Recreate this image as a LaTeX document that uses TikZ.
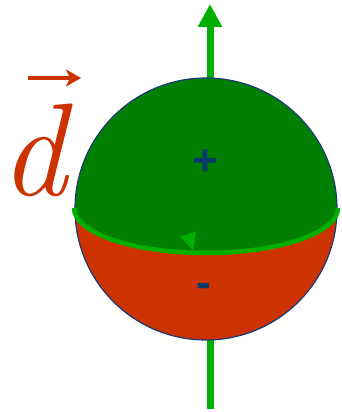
\documentclass[tikz,border=0pt]{standalone}
\usepackage{fontspec}
\newfontfamily\signfont{Liberation Sans}
\usetikzlibrary{arrows.meta}
\definecolor{hotred}{HTML}{CC3300}
\definecolor{darkgrn}{HTML}{007F00}
\definecolor{litegrn}{HTML}{00B000}
\definecolor{signblue}{HTML}{0A3A6A}
\definecolor{rimblue}{HTML}{1A3A7A}
\tikzset{
  axisline/.style={litegrn, line width=7pt, -{Triangle[width=23pt,length=23pt]}},
  signtext/.style={signblue, font=\signfont\bfseries\fontsize{44}{44}\selectfont, inner sep=0pt},
}
\begin{document}
\begin{tikzpicture}[x=1pt,y=1pt]
\useasboundingbox (0,0) rectangle (341,412);
% axis
\coordinate (axbot) at (210,3);
\coordinate (axtop) at (210,408);
\draw[axisline] (axbot) -- (axtop);
% sphere
\node[circle, minimum size=262pt, inner sep=0pt] (sphere) at (206,203) {};
\fill[hotred] (sphere.center) circle[radius=131];
\fill[darkgrn] (337,203) arc[start angle=0, end angle=180, radius=131]
  arc[start angle=180, end angle=360, x radius=131, y radius=45];
\draw[rimblue, line width=1.2pt] (sphere.center) circle[radius=131];
\draw[litegrn, line width=4.5pt] (74,204) arc[start angle=180, end angle=360, x radius=132, y radius=45];
\fill[litegrn] (180,175.3) -- (196,180.3) -- (193.3,161.3) -- cycle;
% signs
\node[signtext] (plus) at (205,249) {+};
\node[signtext] (minus) at (203.5,122) {-};
% d vector
\node[hotred, inner sep=0pt, font=\fontsize{132}{132}\selectfont\itshape] (dlab) at (33,262) {d};
\coordinate (va) at (28,334);
\coordinate (vb) at (81,334);
\draw[hotred, line width=3.5pt, -{Stealth[length=15pt,width=17pt,inset=4pt]}] (va) -- (vb);
\end{tikzpicture}
\end{document}
